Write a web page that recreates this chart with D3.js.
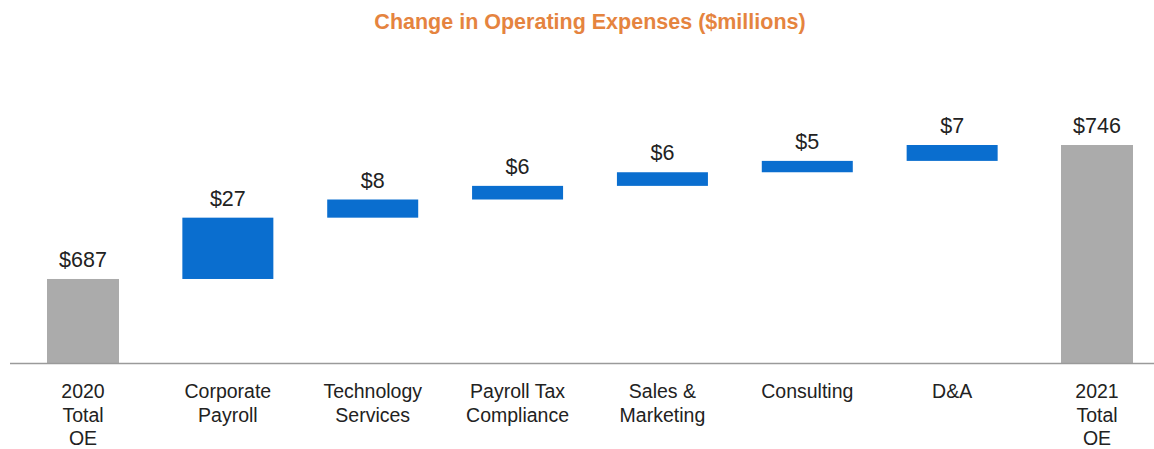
<!DOCTYPE html>
<html>
<head>
<meta charset="utf-8">
<script src="https://cdn.jsdelivr.net/npm/d3@7"></script>
<style>
  html, body { margin: 0; padding: 0; background: #fff; }
  svg { display: block; }
  text { font-family: "Liberation Sans", Arial, sans-serif; }
</style>
</head>
<body>
<svg id="chart" width="1154" height="449"></svg>
<script>
// Operating expense bridge, 2020 -> 2021 ($ millions)
const categories = [
  ["2020", "Total", "OE"],
  ["Corporate", "Payroll"],
  ["Technology", "Services"],
  ["Payroll Tax", "Compliance"],
  ["Sales &", "Marketing"],
  ["Consulting"],
  ["D&A"],
  ["2021", "Total", "OE"]
];
const kinds = ["total", "delta", "delta", "delta", "delta", "delta", "delta", "total"];
const values = [687, 27, 8, 6, 6, 5, 7, 746];
const valueLabels = ["$687", "$27", "$8", "$6", "$6", "$5", "$7", "$746"];
const title = "Change in Operating Expenses ($millions)";

// Build the running totals for the floating bars
let running = 0;
const rows = values.map((v, i) => {
  let lo, hi;
  if (kinds[i] === "total") { lo = null; hi = v; running = v; }
  else { lo = running; hi = running + v; running = hi; }
  return { key: i, lines: categories[i], kind: kinds[i], value: v, lo, hi, label: valueLabels[i] };
});

const svg = d3.select("#chart");

const x = d3.scalePoint()
  .domain(rows.map(d => d.key))
  .range([83, 1097]);

const yMin = 650;
const y = d3.scaleLinear()
  .domain([yMin, 746])
  .range([363, 145]);

const widthFor = d => d.kind === "total" ? 72 : 91;

svg.append("text")
  .attr("x", 590)
  .attr("y", 29)
  .attr("text-anchor", "middle")
  .attr("font-size", 21.5)
  .attr("font-weight", "bold")
  .attr("fill", "#E5843F")
  .text(title);

svg.append("g")
  .selectAll("rect")
  .data(rows)
  .join("rect")
  .attr("x", d => x(d.key) - widthFor(d) / 2)
  .attr("width", widthFor)
  .attr("y", d => y(d.hi))
  .attr("height", d => (d.kind === "total" ? y(yMin) : y(d.lo)) - y(d.hi))
  .attr("fill", d => d.kind === "total" ? "#ABABAB" : "#0A6ECF");

// Baseline
svg.append("line")
  .attr("x1", 10).attr("x2", 1154)
  .attr("y1", y(yMin) + 0.5).attr("y2", y(yMin) + 0.5)
  .attr("stroke", "#9a9a9a")
  .attr("stroke-width", 1.5);

// Value labels
svg.append("g")
  .selectAll("text")
  .data(rows)
  .join("text")
  .attr("x", d => x(d.key))
  .attr("y", d => y(d.hi) - 12)
  .attr("text-anchor", "middle")
  .attr("font-size", 21.5)
  .attr("fill", "#222")
  .text(d => d.label);

// Category labels
const cat = svg.append("g")
  .selectAll("text")
  .data(rows)
  .join("text")
  .attr("x", d => x(d.key))
  .attr("y", 398)
  .attr("text-anchor", "middle")
  .attr("font-size", 19.5)
  .attr("fill", "#222");

cat.selectAll("tspan")
  .data(d => d.lines.map(t => ({ t, cx: x(d.key) })))
  .join("tspan")
  .attr("x", d => d.cx)
  .attr("dy", (d, i) => i === 0 ? 0 : 23.5)
  .text(d => d.t);
</script>
</body>
</html>
